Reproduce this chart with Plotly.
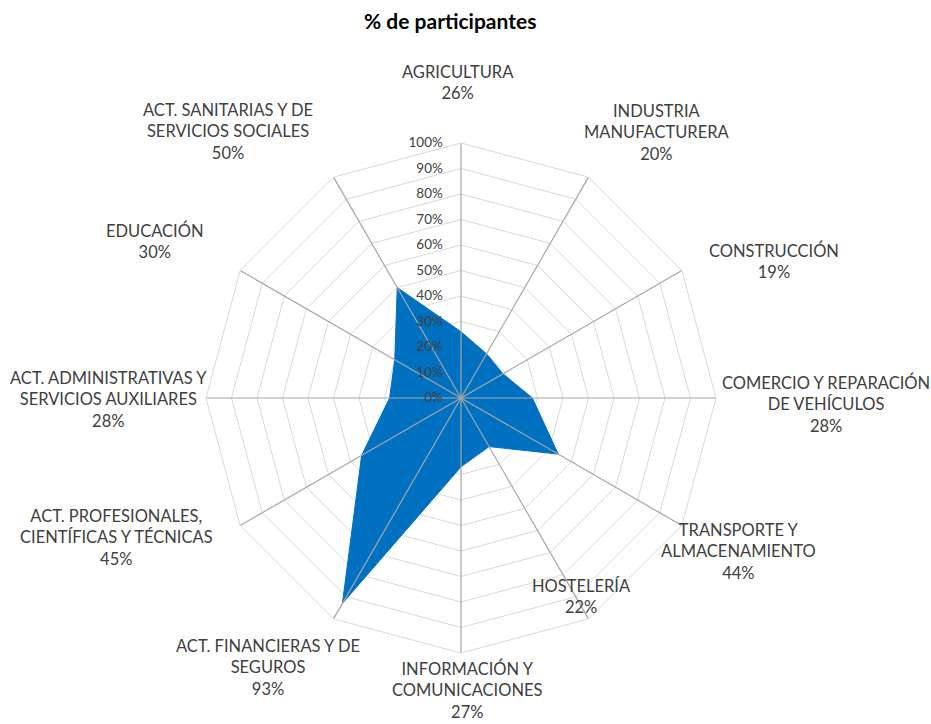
import math
import plotly.graph_objects as go

categories = [
    "AGRICULTURA", "INDUSTRIA<br>MANUFACTURERA", "CONSTRUCCIÓN",
    "COMERCIO Y REPARACIÓN<br>DE VEHÍCULOS", "TRANSPORTE Y<br>ALMACENAMIENTO", "HOSTELERÍA",
    "INFORMACIÓN Y<br>COMUNICACIONES", "ACT. FINANCIERAS Y DE<br>SEGUROS",
    "ACT. PROFESIONALES,<br>CIENTÍFICAS Y TÉCNICAS", "ACT. ADMINISTRATIVAS Y<br>SERVICIOS AUXILIARES",
    "EDUCACIÓN", "ACT. SANITARIAS Y DE<br>SERVICIOS SOCIALES",
]
values = [0.26, 0.20, 0.19, 0.28, 0.44, 0.22, 0.27, 0.93, 0.45, 0.28, 0.30, 0.50]
radial_ticks = [0, 0.1, 0.2, 0.3, 0.4, 0.5, 0.6, 0.7, 0.8, 0.9, 1.0]
radial_ticklabels = ["0%", "10%", "20%", "30%", "40%", "50%", "60%", "70%", "80%", "90%", "100%"]

# layout: pixel offsets of each category label from the outer end of its spoke
label_shift = [(-3.5, -60.5), (68.5, -45), (92, -9.5), (110, 6), (57, 25.5), (-7.5, -22),
               (6, 37), (-66, 49), (-124, 11.5), (-98, 1), (-85, -29.5), (-105.5, -46)]

W, H = 931, 724
CX, CY, R = 461, 398, 255
FONT = "Lato"
TXT = "#404040"

fig = go.Figure()
fig.add_trace(go.Scatterpolar(
    r=values + [values[0]], theta=categories + [categories[0]], mode="lines",
    fill="toself", fillcolor="#0070C0", line=dict(color="#0070C0", width=1),
    hoverinfo="skip", showlegend=False,
))
# spokes drawn above the fill
sr, st = [], []
for c in categories:
    sr += [0, 1, None]
    st += [c, c, None]
fig.add_trace(go.Scatterpolar(
    r=sr, theta=st, mode="lines", line=dict(color="#A6A6A6", width=1.2),
    hoverinfo="skip", showlegend=False, connectgaps=False,
))

n = len(categories)
for i, (c, v) in enumerate(zip(categories, values)):
    ang = 2 * math.pi * i / n
    ex = CX + R * math.sin(ang)
    ey = CY - R * math.cos(ang)
    dx, dy = label_shift[i]
    fig.add_annotation(
        text=f"{c}<br>{round(v*100)}%", xref="paper", yref="paper",
        x=ex / W, y=1 - ey / H, xshift=dx, yshift=-dy,
        xanchor="center", yanchor="middle", align="center", showarrow=False,
        font=dict(family=FONT, size=16.5, color=TXT),
    )

fig.add_annotation(
    text="<b>% de participantes</b>", xref="paper", yref="paper",
    x=450 / W, y=1 - 20 / H, xanchor="center", yanchor="middle", showarrow=False,
    font=dict(family=FONT, size=21, color="#000000"),
)

fig.update_layout(
    width=W, height=H,
    margin=dict(l=0, r=0, t=0, b=0),
    paper_bgcolor="white",
    font=dict(family=FONT, color=TXT, size=16),
    polar=dict(
        domain=dict(x=[(CX - R) / W, (CX + R) / W], y=[1 - (CY + R) / H, 1 - (CY - R) / H]),
        bgcolor="white",
        gridshape="linear",
        angularaxis=dict(
            type="category", categoryorder="array", categoryarray=categories,
            rotation=90, direction="clockwise",
            showgrid=False, showline=True, linecolor="#D9D9D9", linewidth=1,
            ticks="", showticklabels=False,
        ),
        radialaxis=dict(
            range=[0, 1], tickmode="array", tickvals=radial_ticks, ticktext=radial_ticklabels,
            angle=90, tickangle=90, showline=False, gridcolor="#D9D9D9", gridwidth=1,
            ticks="outside", ticklen=13, tickcolor="rgba(0,0,0,0)",
            side="counterclockwise", layer="above traces",
            tickfont=dict(family=FONT, size=13.5, color=TXT),
        ),
    ),
)
fig.write_html("out.html", config={"displayModeBar": False},
               post_script="document.body.style.margin='0px';")
